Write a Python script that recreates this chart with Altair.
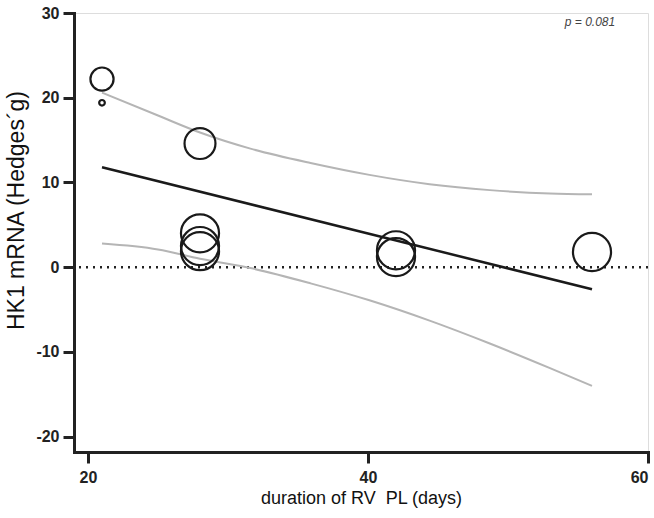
import altair as alt
import pandas as pd

# study points (x = duration in days, y = Hedges' g, w = relative weight)
pt_x = [21, 21, 28, 28, 28, 28, 42, 42, 56]
pt_y = [22.2, 19.4, 14.6, 4.0, 2.5, 1.9, 2.0, 1.2, 1.8]
pt_w = [3.7, 0.22, 6.6, 10, 10, 10, 10, 10, 10]

# regression line
reg_x = [21, 56]
reg_y = [11.8, -2.6]

# confidence band curves
ci_x = [21, 25, 28, 31.6, 35.9, 40.1, 44.4, 48.7, 53, 56]
ci_up = [20.6, 17.9, 15.9, 14.0, 12.3, 10.9, 9.8, 9.1, 8.7, 8.6]
ci_lo = [2.8, 2.1, 1.0, -0.1, -1.9, -3.9, -6.3, -9.0, -11.9, -14.0]

x_ticks = [20, 40, 60]
y_ticks = [-20, -10, 0, 10, 20, 30]

pts = pd.DataFrame({"x": pt_x, "y": pt_y, "w": pt_w})
reg = pd.DataFrame({"x": reg_x, "y": reg_y})
ci = pd.concat([
    pd.DataFrame({"x": ci_x, "y": ci_up, "band": "upper"}),
    pd.DataFrame({"x": ci_x, "y": ci_lo, "band": "lower"}),
])

FONT = "Liberation Sans"
xs = alt.Scale(domain=[19, 60], nice=False, zero=False)
ys = alt.Scale(domain=[-21.8, 30], nice=False, zero=False)

x_axis = alt.Axis(values=x_ticks, title="duration of RV\u00a0\u00a0PL (days)", grid=False,
                  labelExpr="'' + datum.value",
                  labelFont=FONT, labelFontSize=16, labelFontWeight="bold", labelColor="#222",
                  labelPadding=6, tickSize=11, tickWidth=3, tickColor="#222",
                  domainWidth=3, domainColor="#222", domainCap="square",
                  titleFont=FONT, titleFontSize=18, titleFontWeight="normal", titleColor="#111",
                  titleY=51, titleBaseline="alphabetic")
y_axis = alt.Axis(values=y_ticks, title="HK1 mRNA (Hedges´g)", grid=False,
                  labelExpr="'' + datum.value",
                  labelFont=FONT, labelFontSize=16, labelFontWeight="bold", labelColor="#222",
                  labelPadding=4, tickSize=11, tickWidth=3, tickColor="#222",
                  domainWidth=3, domainColor="#222", domainCap="square",
                  titleFont=FONT, titleFontSize=23, titleFontWeight="normal", titleColor="#111",
                  titleX=-51, titleY=197, titleAngle=270, titleAlign="center",
                  titleBaseline="alphabetic")

base_x = alt.X("x:Q", scale=xs, axis=x_axis)
base_y = alt.Y("y:Q", scale=ys, axis=y_axis)

zero = alt.Chart(pd.DataFrame({"v": [0]})).mark_rule(
    color="#222", strokeWidth=2.5, strokeDash=[2, 5]
).encode(y=alt.Y("v:Q", scale=ys, axis=y_axis))

ci_lines = alt.Chart(ci).mark_line(color="#b5b5b5", strokeWidth=2, interpolate="monotone").encode(
    x=base_x, y=base_y, detail="band:N")

reg_line = alt.Chart(reg).mark_line(color="#1a1a1a", strokeWidth=2.5).encode(
    x=base_x, y=base_y)

circles = alt.Chart(pts).mark_point(shape="circle", filled=False, color="#1a1a1a",
                                    strokeWidth=2.2, opacity=1).encode(
    x=base_x, y=base_y,
    size=alt.Size("w:Q", scale=alt.Scale(domain=[0, 10], range=[0, 1450]), legend=None))

ptext = alt.Chart(pd.DataFrame({"t": ["p = 0.081"]})).mark_text(
    font=FONT, fontSize=12, fontStyle="italic", color="#444", align="center", baseline="middle"
).encode(text="t:N", x=alt.value(516), y=alt.value(9))

chart = alt.layer(zero, ci_lines, reg_line, circles, ptext).properties(
    width=574, height=439,
    autosize=alt.AutoSizeParams(type="none"),
    padding={"left": 74, "top": 13, "right": 6, "bottom": 66},
).configure_view(stroke=None).configure(background="white")

chart.save("out.html", embed_options={"renderer": "svg", "actions": False})
